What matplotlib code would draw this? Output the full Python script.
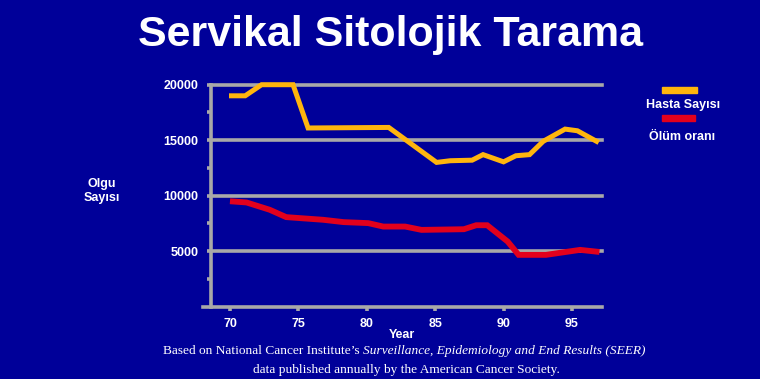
import matplotlib
matplotlib.use("Agg")
import matplotlib.pyplot as plt

# Hasta sayisi (yellow) - year, value
hasta_year = [70.1, 71.1, 72.3, 74.6, 75.7, 81.6, 85.1, 86.1, 87.7, 88.5, 90.0, 90.9, 91.9, 92.9, 94.5, 95.4, 96.8]
hasta_val = [19000, 19000, 20000, 20000, 16100, 16150, 13000, 13150, 13200, 13700, 13050, 13600, 13700, 14900, 16000, 15850, 14900]

# Olum orani (red)
olum_year = [70.2, 71.2, 72.9, 74.1, 76.8, 78.3, 80.1, 81.2, 82.8, 84.0, 87.1, 88.0, 88.8, 90.3, 91.1, 93.1, 95.6, 96.8]
olum_val = [9480, 9390, 8730, 8070, 7830, 7620, 7530, 7220, 7220, 6920, 6980, 7340, 7340, 5870, 4670, 4670, 5120, 4960]

x_ticks = [70, 75, 80, 85, 90, 95]
y_ticks = [5000, 10000, 15000, 20000]

BG = "#000099"
GRID = "#A8A8A8"
YELLOW = "#FFB50D"
RED = "#E2001C"
SANS = "Liberation Sans"
SERIF = "Liberation Serif"

fig = plt.figure(figsize=(7.6, 3.79), dpi=100, facecolor=BG)
ax = fig.add_axes([211 / 760, 1 - 306.7 / 379, (602 - 211) / 760, (306.7 - 84.7) / 379])
ax.set_facecolor(BG)
ax.set_xlim(68.6, 97.2)
ax.set_ylim(0, 20000)

for v in y_ticks:
    ax.axhline(v, color=GRID, lw=2.6, zorder=1, clip_on=False)
ax.plot([68.0, 97.2], [0, 0], color=GRID, lw=2.6, zorder=1, clip_on=False)

for s in ["top", "right", "bottom"]:
    ax.spines[s].set_visible(False)
ax.spines["left"].set_color(GRID)
ax.spines["left"].set_linewidth(2.6)

ax.plot(hasta_year, hasta_val, color=YELLOW, lw=3.6, zorder=3, clip_on=False, solid_joinstyle="miter")
ax.plot(olum_year, olum_val, color=RED, lw=4.2, zorder=3, clip_on=False, solid_joinstyle="miter")

ax.set_xticks(x_ticks)
ax.set_xticklabels([str(t) for t in x_ticks])
ax.set_yticks(y_ticks)
ax.set_yticklabels([str(t) for t in y_ticks])
ax.set_yticks([2500, 7500, 12500, 17500], minor=True)
ax.tick_params(axis="both", colors=GRID, labelcolor="white", width=2.6, length=3)
ax.tick_params(axis="y", which="minor", colors=GRID, width=2.6, length=3)
ax.tick_params(axis="x", pad=5)
ax.tick_params(axis="y", pad=6)
for lab in ax.get_xticklabels() + ax.get_yticklabels():
    lab.set_fontfamily(SANS)
    lab.set_fontweight("bold")
    lab.set_fontsize(9)

fig.text(391 / 760, 1 - 35 / 379, "Servikal Sitolojik Tarama", color="white", fontsize=31,
         fontweight="bold", family=SANS, ha="center", va="center")
fig.text(102 / 760, 1 - 191 / 379, "Olgu\nSayısı", color="white", fontsize=9, fontweight="bold",
         family=SANS, ha="center", va="center", linespacing=1.2)
fig.text(402 / 760, 1 - 335 / 379, "Year", color="white", fontsize=9, fontweight="bold",
         family=SANS, ha="center", va="center")

# legend
fig.patches.append(plt.Rectangle((662 / 760, 1 - 93.3 / 379), 35 / 760, 6.6 / 379,
                                 transform=fig.transFigure, color=YELLOW))
fig.patches.append(plt.Rectangle((662 / 760, 1 - 121 / 379), 33 / 760, 6 / 379,
                                 transform=fig.transFigure, color=RED))
fig.text(683 / 760, 1 - 105 / 379, "Hasta Sayısı", color="white", fontsize=9, fontweight="bold",
         family=SANS, ha="center", va="center")
fig.text(682.5 / 760, 1 - 136.7 / 379, "Ölüm oranı", color="white", fontsize=9, fontweight="bold",
         family=SANS, ha="center", va="center")

# footer with italic part, centred as one line
renderer = fig.canvas.get_renderer()
parts = [("Based on National Cancer Institute’s ", "normal"),
         ("Surveillance, Epidemiology and End Results (SEER)", "italic")]
texts = []
for s, style in parts:
    t = fig.text(0, 1 - 351 / 379, s, color="white", fontsize=9.6, family=SERIF, style=style,
                 ha="left", va="center")
    texts.append(t)
widths = [t.get_window_extent(renderer).width for t in texts]
x0 = 404 - sum(widths) / 2
for t, w in zip(texts, widths):
    t.set_x(x0 / 760)
    x0 += w
fig.text(406 / 760, 1 - 370 / 379, "data published annually by the American Cancer Society.",
         color="white", fontsize=9.6, family=SERIF, ha="center", va="center")

fig.savefig("out.png", dpi=100, facecolor=BG)
